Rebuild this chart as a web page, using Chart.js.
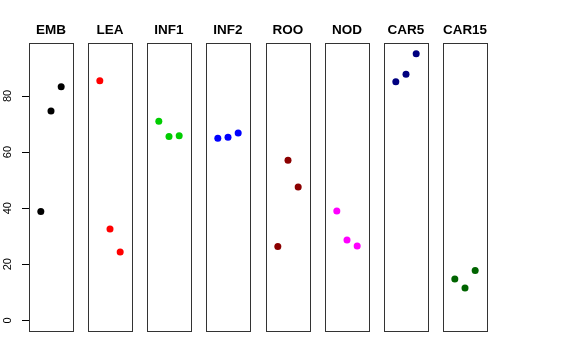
<!DOCTYPE html>
<html lang="en">
<head>
  <meta charset="UTF-8" />
  <title>Group dot panels</title>
  <style>
    body {
      margin: 0;
      background: #ffffff;
      width: 576px;
      height: 360px;
      position: relative;
      overflow: hidden;
      font-family: "Liberation Sans", Arial, sans-serif;
    }
    canvas { position: absolute; top: 0; }
  </style>
</head>
<body>
  <script src="https://cdn.jsdelivr.net/npm/chart.js"></script>
  <script>
    // data
    const groups = ['EMB', 'LEA', 'INF1', 'INF2', 'ROO', 'NOD', 'CAR5', 'CAR15'];
    const groupColors = ['#000000', '#ff0000', '#00cd00', '#0000ff', '#8b0000', '#ff00ff', '#000080', '#006400'];
    const replicate = [1, 2, 3];
    const EMB = [38.8, 74.6, 83.3];
    const LEA = [85.4, 32.6, 24.4];
    const INF1 = [71.0, 65.5, 65.8];
    const INF2 = [64.9, 65.3, 66.8];
    const ROO = [26.3, 57.1, 47.5];
    const NOD = [39.0, 28.6, 26.5];
    const CAR5 = [85.1, 87.7, 95.0];
    const CAR15 = [14.7, 11.5, 17.8];
    const yTicks = [0, 20, 40, 60, 80];

    const groupValues = [EMB, LEA, INF1, INF2, ROO, NOD, CAR5, CAR15];

    // R style axis limits: 4% padding around the data range
    const allY = groupValues.flat();
    const yLo = 0, yHi = Math.max(...allY);
    const yPad = (yHi - yLo) * 0.04;
    const xLo = 0, xHi = 4, xPad = (xHi - xLo) * 0.04;
    const tickLen = 7;

    // panel frame, plus the y tick marks on the panel that carries the axis
    const makePanelBox = withTicks => ({
      id: 'panelBox',
      afterDraw(chart) {
        const { ctx, chartArea: a } = chart;
        ctx.save();
        ctx.strokeStyle = '#333333';
        ctx.lineWidth = 1;
        ctx.strokeRect(Math.round(a.left) + 0.5, Math.round(a.top) + 0.5,
          Math.round(a.right - a.left), Math.round(a.bottom - a.top));
        if (withTicks) {
          const ys = chart.scales.y;
          const x0 = Math.round(a.left);
          ctx.strokeStyle = '#000000';
          ctx.beginPath();
          yTicks.forEach(v => {
            const py = Math.round(ys.getPixelForValue(v)) + 0.5;
            ctx.moveTo(x0 - tickLen, py);
            ctx.lineTo(x0, py);
          });
          ctx.stroke();
        }
        ctx.restore();
      }
    });

    const firstLeft = 29, panelStep = 59.15, panelWidth = 44, axisWidth = 29;

    groups.forEach((name, i) => {
      const panelLeft = Math.round(firstLeft + i * panelStep);
      const withAxis = i === 0;
      const canvasLeft = withAxis ? 0 : panelLeft - 5;
      const padLeft = withAxis ? 0 : 5;
      const canvasWidth = (withAxis ? axisWidth : padLeft) + panelWidth + 5;

      const canvas = document.createElement('canvas');
      canvas.width = canvasWidth;
      canvas.height = 360;
      canvas.style.left = canvasLeft + 'px';
      document.body.appendChild(canvas);

      const yScale = {
        type: 'linear',
        display: withAxis,
        min: yLo - yPad,
        max: yHi + yPad,
        afterBuildTicks: s => { s.ticks = yTicks.map(v => ({ value: v })); },
        border: { display: false },
        grid: { display: false, drawOnChartArea: false, tickLength: tickLen },
        ticks: {
          minRotation: 90,
          maxRotation: 90,
          crossAlign: 'center',
          padding: 8,
          color: '#000000',
          font: { family: '"Liberation Sans", Arial, sans-serif', size: 11 }
        }
      };
      if (withAxis) yScale.afterFit = s => { s.width = axisWidth; };

      new Chart(canvas.getContext('2d'), {
        type: 'scatter',
        data: {
          datasets: [{
            data: replicate.map((x, j) => ({ x, y: groupValues[i][j] })),
            backgroundColor: groupColors[i],
            borderColor: groupColors[i],
            borderWidth: 0,
            pointRadius: 3.5,
            pointHoverRadius: 3.5
          }]
        },
        options: {
          responsive: false,
          animation: false,
          devicePixelRatio: 1,
          events: [],
          layout: { padding: { left: padLeft, right: 5, top: 0, bottom: 29 } },
          plugins: {
            legend: { display: false },
            tooltip: { enabled: false },
            title: {
              display: true,
              text: name,
              fullSize: false,
              color: '#000000',
              font: { family: '"Liberation Sans", Arial, sans-serif', size: 13.5, weight: 'bold', lineHeight: 1.2 },
              padding: { top: 22, bottom: 5 }
            }
          },
          scales: {
            x: {
              type: 'linear',
              display: false,
              min: xLo - xPad,
              max: xHi + xPad
            },
            y: yScale
          }
        },
        plugins: [makePanelBox(withAxis)]
      });
    });
  </script>
</body>
</html>
